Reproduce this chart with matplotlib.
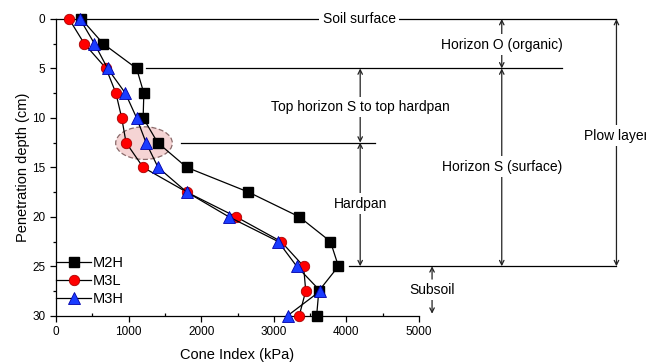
import matplotlib
matplotlib.use("Agg")
import matplotlib.pyplot as plt
from matplotlib.patches import Ellipse
from matplotlib.ticker import MultipleLocator

plt.rcParams['font.family'] = ['Liberation Sans', 'DejaVu Sans']

depth = [0, 2.5, 5, 7.5, 10, 12.5, 15, 17.5, 20, 22.5, 25, 27.5, 30]
m2h = [350, 650, 1110, 1210, 1200, 1400, 1800, 2650, 3350, 3780, 3890, 3620, 3590]
m3l = [180, 390, 690, 825, 905, 965, 1200, 1800, 2480, 3100, 3410, 3440, 3350]
m3h = [330, 530, 710, 955, 1110, 1240, 1405, 1800, 2380, 3060, 3315, 3640, 3190]

fig = plt.figure(figsize=(6.46, 3.63), dpi=100)
ax = fig.add_axes([0.0867, 0.1303, 0.5619, 0.8174])

ax.plot(m2h, depth, color='black', lw=0.9, marker='s', ms=6.5, mfc='black',
        mec='black', label='M2H', zorder=4, clip_on=False)
ax.plot(m3l, depth, color='black', lw=0.9, marker='o', ms=7.5, mfc='red',
        mec='#aa0000', mew=0.6, label='M3L', zorder=5, clip_on=False)
ax.plot(m3h, depth, color='black', lw=0.9, marker='^', ms=8, mfc='#1a3cff',
        mec='#0000aa', mew=0.6, label='M3H', zorder=6, clip_on=False)

ell = Ellipse((1212, 12.55), 780, 3.3, facecolor='#f5d4d4', edgecolor='#8a6a6a',
              ls=(0, (4, 2)), lw=0.9, zorder=2)
ax.add_patch(ell)

ax.set_xlim(0, 5000)
ax.set_ylim(30, 0)
ax.set_xticks([0, 1000, 2000, 3000, 4000, 5000])
ax.set_yticks([0, 5, 10, 15, 20, 25, 30])
ax.xaxis.set_minor_locator(MultipleLocator(500))
ax.yaxis.set_minor_locator(MultipleLocator(2.5))
ax.tick_params(axis='both', which='major', direction='out', length=4, width=0.9,
               labelsize=8.5)
ax.tick_params(axis='x', which='minor', direction='in', length=2.5, width=0.9)
ax.tick_params(axis='y', which='minor', direction='out', length=2.5, width=0.9)
for s in ['top', 'right']:
    ax.spines[s].set_visible(False)
for s in ['left', 'bottom']:
    ax.spines[s].set_linewidth(0.9)

ax.set_xlabel('Cone Index (kPa)', fontsize=10.5, labelpad=7)
ax.set_ylabel('Penetration depth (cm)', fontsize=10.5, labelpad=2)

leg = ax.legend(loc='upper left', bbox_to_anchor=(0.0, 0.20), frameon=False,
                fontsize=10.5, handlelength=2.4, handletextpad=0.1,
                labelspacing=0.25, borderpad=0, borderaxespad=0)

# annotation lines
lk = dict(color='black', lw=0.9, clip_on=False, zorder=1)
ax.plot([0, 7720], [0, 0], **lk)
ax.plot([1240, 6970], [5, 5], **lk)
ax.plot([1720, 4395], [12.5, 12.5], **lk)
ax.plot([4040, 7720], [25, 25], **lk)

def arrow(x, y1, y2):
    ax.annotate('', xy=(x, y2), xytext=(x, y1), annotation_clip=False,
                arrowprops=dict(arrowstyle='<->', lw=0.9, color='#222222',
                                shrinkA=0, shrinkB=0, mutation_scale=8))

def single(x, y1, y2):
    ax.annotate('', xy=(x, y2), xytext=(x, y1), annotation_clip=False,
                arrowprops=dict(arrowstyle='->', lw=0.9, color='#222222',
                                shrinkA=0, shrinkB=0, mutation_scale=8))

tb = dict(facecolor='white', edgecolor='none', boxstyle='square,pad=0.25')
tk = dict(fontsize=10, ha='center', va='center', clip_on=False, zorder=8)

ax.text(4180, 0, 'Soil surface', bbox=tb, **tk)

arrow(4190, 5, 12.5)
ax.text(4190, 8.9, 'Top horizon S to top hardpan', bbox=tb, **tk)
arrow(4190, 12.5, 25)
ax.text(4190, 18.7, 'Hardpan', bbox=tb, **tk)

arrow(6140, 0, 5)
ax.text(6140, 2.6, 'Horizon O (organic)', bbox=tb, **tk)
arrow(6140, 5, 25)
ax.text(6140, 14.95, 'Horizon S (surface)', bbox=tb, **tk)

arrow(7720, 0, 25)
ax.text(7720, 11.8, 'Plow layer', bbox=tb, **tk)

single(5180, 26.3, 25)
single(5180, 28.4, 29.8)
ax.text(5180, 27.4, 'Subsoil', bbox=tb, **tk)

fig.savefig('out.png', dpi=100)
